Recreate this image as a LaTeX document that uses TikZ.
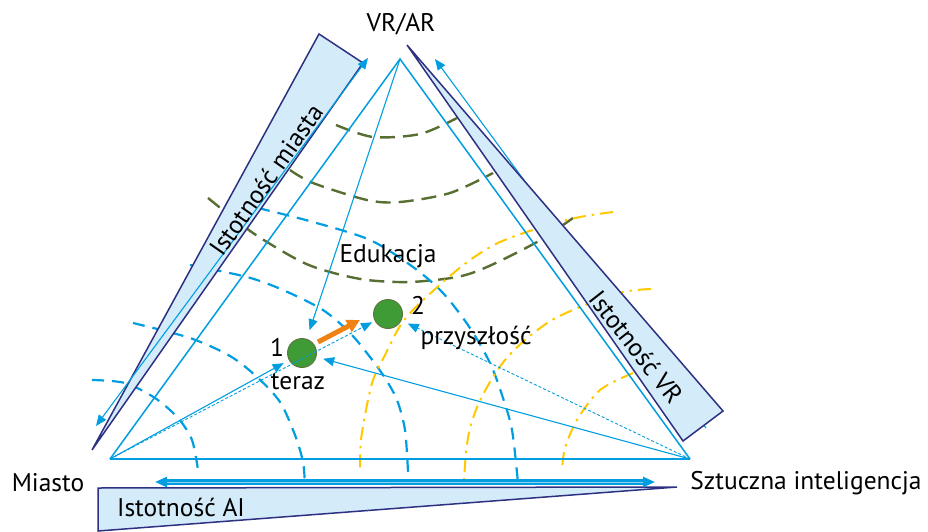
\documentclass[tikz,border=0pt]{standalone}
\usepackage{fontspec}
\setmainfont{PT Sans}
\usetikzlibrary{arrows.meta,calc}
\definecolor{cyanl}{RGB}{0,158,224}
\definecolor{navyw}{RGB}{46,49,130}
\definecolor{wedgefill}{RGB}{212,235,250}
\definecolor{oliveg}{RGB}{88,110,50}
\definecolor{yel}{RGB}{255,200,0}
\definecolor{ptgreen}{RGB}{62,155,53}
\definecolor{ptedge}{RGB}{95,115,60}
\definecolor{orng}{RGB}{240,130,20}
\tikzset{
  arcb/.style={cyanl, line width=2.2pt, dash pattern=on 12pt off 8pt},
  arco/.style={oliveg, line width=2.4pt, dash pattern=on 15pt off 8pt},
  arcy/.style={yel, line width=2pt, dash pattern=on 13pt off 6pt on 2.5pt off 6pt},
  edgeline/.style={cyanl, line width=1.5pt},
  tip/.style={-{Triangle[length=11pt,width=9pt]}},
  conn/.style={cyanl, line width=1.1pt, tip},
  thindash/.style={cyanl, line width=0.9pt, dash pattern=on 3pt off 2pt, tip},
  wedge/.style={fill=wedgefill, draw=navyw, line width=1.5pt, line join=miter},
  lbl/.style={font=\fontsize{25.5}{30}\selectfont, inner sep=0pt},
  ptnode/.style={circle, fill=ptgreen, draw=ptedge, line width=0.9pt, minimum size=29pt, inner sep=0pt}
}
\begin{document}
\begin{tikzpicture}[x=1pt,y=-1pt]
\useasboundingbox (0,0) rectangle (928,532);
% vertices
\coordinate (M) at (110,459);
\coordinate (S) at (690,459);
\coordinate (V) at (400,59);
% arcs around VR/AR (olive)
\draw[arco] plot[smooth] coordinates {(336,125) (373,137) (420,134) (457,118)};
\draw[arco] plot[smooth] coordinates {(290,170) (313,183) (367,200) (400,202) (450,193) (493,173)};
\draw[arco] plot[smooth] coordinates {(208,198) (253,233) (300,261) (330,272) (367,280) (410,282) (457,277) (487,267) (537,242) (573,218)};
% arcs around Miasto (blue)
\draw[arcb] plot[smooth] coordinates {(92,380) (125,383) (155,398) (178,418) (192,440) (198,470)};
\draw[arcb] plot[smooth] coordinates {(133,323) (190,338) (230,356) (257,377) (280,402) (295,435) (303,462) (305,486)};
\draw[arcb] plot[smooth] coordinates {(190,265) (247,277) (283,290) (323,310) (350,333) (370,357) (385,378) (397,400) (405,430) (408,472)};
\draw[arcb] plot[smooth] coordinates {(258,208) (313,222) (370,240) (413,267) (443,293) (470,328) (490,363) (502,395) (512,430) (518,483)};
% arcs around AI (yellow)
\draw[arcy] plot[smooth] coordinates {(613,212) (580,217) (545,226) (500,242) (470,260) (443,282) (415,308) (400,326) (385,355) (373,380) (366,410) (361,440) (360,468)};
\draw[arcy] plot[smooth] coordinates {(651,289) (623,292) (585,305) (552,320) (525,340) (505,360) (490,382) (478,405) (470,428) (466,452) (464,483)};
\draw[arcy] plot[smooth] coordinates {(633,373) (600,390) (577,420) (565,448) (562,470)};
% triangle
\draw[edgeline] (M) -- (V) -- (S);
\draw[cyanl, line width=2pt] (M) -- (S);
% right wedge arrow (lower part hidden)
\coordinate (ra1) at (706,428);
\coordinate (ra2) at (435,59);
\draw[conn] (ra1) -- (ra2);
% wedges
\draw[wedge] (92,450) -- (319,34) -- (363,63) -- cycle;
\draw[wedge] (407,45) -- (723,411) -- (683,441) -- cycle;
\draw[wedge] (98,488) -- (677,487) -- (98,531) -- cycle;
% wedge arrows
\coordinate (la1) at (96,426);
\coordinate (la2) at (368,58);
\draw[cyanl, line width=1.1pt, {Triangle[length=11pt,width=9pt]}-{Triangle[length=11pt,width=9pt]}] (la1) -- (la2);
\coordinate (ba1) at (155,482);
\coordinate (ba2) at (655,482);
\draw[cyanl, line width=2.4pt, double=cyanl!45, double distance=0.6pt, {Triangle[length=12pt,width=10pt]}-{Triangle[length=12pt,width=10pt]}] (ba1) -- (ba2);
% points
\node[ptnode] (p1) at (302,353) {};
\node[ptnode] (p2) at (388,314) {};
% connectors
\draw[conn, shorten >=9pt] (V) -- (p1);
\draw[conn, shorten >=6pt] (M) -- (p1);
\draw[conn, shorten >=7pt] (S) -- (p1);
\draw[thindash, shorten >=3pt] (M) -- (p2);
\draw[thindash, shorten >=7pt] (S) -- (p2);
\draw[orng, line width=5pt, -{Triangle[length=13pt,width=13pt]}] ([shift={(16,-11)}]p1.center) -- ([shift={(-28,6)}]p2.center);
% labels
\node[lbl] (tVR) at (401,24) {VR/AR};
\node[lbl] (tM) at (48,483) {Miasto};
\node[lbl] (tS) at (806,483) {Sztuczna inteligencja};
\node[lbl] (tE) at (388,256) {Edukacja};
\node[lbl] (t1) at (277,347) {1};
\node[lbl] (tteraz) at (298,382) {teraz};
\node[lbl] (t2) at (418,305) {2};
\node[lbl] (tprz) at (476,338) {przyszłość};
\node[lbl] (tAI) at (181,507) {Istotność AI};
\node[lbl, rotate=55] (tMi) at (266,180) {Istotność miasta};
\node[lbl, rotate=-52] (tVRw) at (636,347) {Istotność VR};
\end{tikzpicture}
\end{document}
